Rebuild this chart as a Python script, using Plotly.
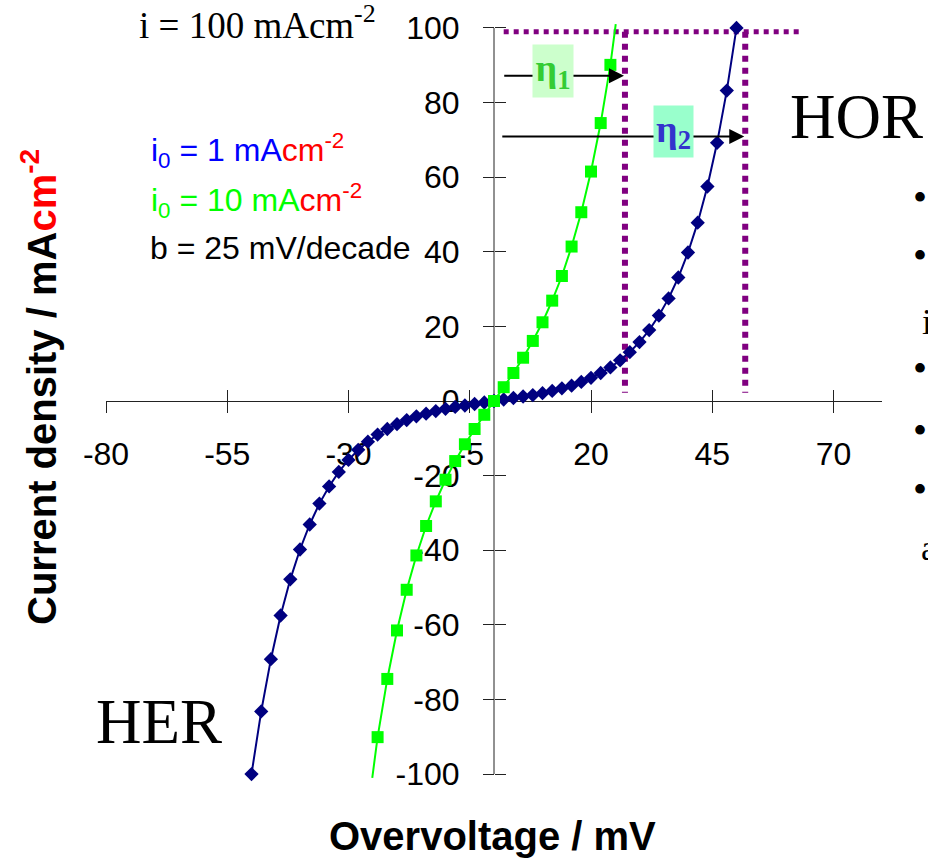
import plotly.graph_objects as go

# ---------------- data ----------------
eta_blue = [-50, -48, -46, -44, -42, -40, -38, -36, -34, -32, -30, -28, -26, -24, -22,
            -20, -18, -16, -14, -12, -10, -8, -6, -4, -2, 0, 2, 4, 6, 8, 10, 12, 14,
            16, 18, 20, 22, 24, 26, 28, 30, 32, 34, 36, 38, 40, 42, 44, 46, 48, 50]
i_blue = [-100, -83.2, -69.2, -57.5, -47.8, -39.8, -33.1, -27.5, -22.9, -19.0, -15.8,
          -13.1, -10.9, -9.0, -7.5, -6.2, -5.1, -4.1, -3.4, -2.7, -2.1, -1.6, -1.2,
          -0.8, -0.4, 0, 0.4, 0.8, 1.2, 1.6, 2.1, 2.7, 3.4, 4.1, 5.1, 6.2, 7.5, 9.0,
          10.9, 13.1, 15.8, 19.0, 22.9, 27.5, 33.1, 39.8, 47.8, 57.5, 69.2, 83.2, 100]

eta_green = [-24, -22, -20, -18, -16, -14, -12, -10, -8, -6, -4, -2, 0,
             2, 4, 6, 8, 10, 12, 14, 16, 18, 20, 22, 24]
i_green = [-90.1, -74.5, -61.5, -50.6, -41.4, -33.5, -26.9, -21.1, -16.1, -11.6, -7.5,
           -3.7, 0, 3.7, 7.5, 11.6, 16.1, 21.1, 26.9, 33.5, 41.4, 50.6, 61.5, 74.5, 90.1]
eta_green_line = [-25.1] + eta_green + [25.1]
i_green_line = [-101] + i_green + [101]

x_tickvals = [-80, -55, -30, -5, 20, 45, 70]
x_ticktext = ["-80", "-55", "-30", "-5", "20", "45", "70"]
y_tickvals = [-100, -80, -60, -40, -20, 0, 20, 40, 60, 80, 100]
y_ticktext = ["-100", "-80", "-60", "-40", "-20", "0", "20", "40", "60", "80", "100"]

# guide lines (overpotentials at i = 100 mA/cm2)
i_target = 99
eta1_line = 27.0
eta2_line = 51.8
h_line_x = [2.0, 63.6]
v_line_bottom = 2.2
arrow1 = dict(x0=1.8, x1=26.8, y=87.2)
arrow2 = dict(x0=1.4, x1=51.6, y=70.9)

# ---------------- figure ----------------
W, H = 928, 858
ML, MR, MT, MB = 106, 46, 13, 69
PW, PH = W - ML - MR, H - MT - MB


def PX(px):
    return (px - ML) / PW


def PY(py):
    return (H - MB - py) / PH


NAVY = "#000080"
LIME = "#00ff00"
PURPLE = "#800080"
AXC = "#222222"
ARIAL = "Arial, Liberation Sans, sans-serif"
TIMES = "Times New Roman, Liberation Serif, serif"

fig = go.Figure()
fig.add_trace(go.Scatter(x=eta_blue, y=i_blue, mode="lines+markers",
                         line=dict(color=NAVY, width=2),
                         marker=dict(symbol="diamond", size=11, color=NAVY),
                         cliponaxis=False, showlegend=False))
fig.add_trace(go.Scatter(x=eta_green_line, y=i_green_line, mode="lines",
                         line=dict(color=LIME, width=2), xaxis="x2", yaxis="y2",
                         showlegend=False))
fig.add_trace(go.Scatter(x=eta_green, y=i_green, mode="markers",
                         marker=dict(symbol="square", size=12, color=LIME),
                         xaxis="x2", yaxis="y2", cliponaxis=False, showlegend=False))

tickfont = dict(family=ARIAL, size=32, color="black")
common_x = dict(range=[-80, 80], tickmode="array", tickvals=x_tickvals,
                anchor="free", position=0.5, ticklen=11, tickwidth=1, tickcolor=AXC,
                showgrid=False, zeroline=False, layer="below traces")
common_y = dict(range=[-104, 104], tickmode="array", tickvals=y_tickvals,
                anchor="free", position=0.5, ticklen=11, tickwidth=1, tickcolor=AXC,
                showgrid=False, zeroline=False, layer="below traces")

fig.update_layout(
    width=W, height=H,
    margin=dict(l=ML, r=MR, t=MT, b=MB, autoexpand=False),
    paper_bgcolor="white", plot_bgcolor="white", showlegend=False,
    xaxis=dict(**common_x, ticktext=x_ticktext, ticks="outside", showline=True,
               linecolor=AXC, linewidth=1, tickfont=tickfont, ticklabelstandoff=14),
    xaxis2=dict(**common_x, overlaying="x", ticks="inside", showline=False,
                showticklabels=False),
    yaxis=dict(**common_y, ticktext=y_ticktext, ticks="outside", showline=False,
               tickfont=tickfont, ticklabelstandoff=17),
    yaxis2=dict(**common_y, overlaying="y", ticks="inside", showline=False,
                showticklabels=False),
)

# y axis line only between -100 and 100
fig.add_shape(type="line", xref="x", yref="y", x0=0, x1=0, y0=-100, y1=100,
              line=dict(color=AXC, width=1), layer="below")
# purple dotted guides
fig.add_shape(type="line", xref="x", yref="y", x0=h_line_x[0], x1=h_line_x[1],
              y0=i_target, y1=i_target, line=dict(color=PURPLE, width=5, dash="dot"),
              layer="below")
for xv in (eta1_line, eta2_line):
    fig.add_shape(type="line", xref="x", yref="y", x0=xv, x1=xv, y0=i_target,
                  y1=v_line_bottom, line=dict(color=PURPLE, width=6, dash="dot"),
                  layer="below")

# arrows
for a in (arrow1, arrow2):
    fig.add_annotation(x=a["x1"], y=a["y"], ax=a["x0"], ay=a["y"], xref="x", yref="y",
                       axref="x", ayref="y", text="", showarrow=True, arrowhead=2,
                       arrowsize=1.5, arrowwidth=2, arrowcolor="black", standoff=0)

# eta labels
fig.add_annotation(x=PX(553), y=PY(71), xref="paper", yref="paper",
                   xanchor="center", yanchor="middle",
                   text="<b>η<sub>1</sub></b>", showarrow=False, width=40, height=52,
                   bgcolor="#ccffcc", borderpad=0,
                   font=dict(family=TIMES, size=38, color="#33cc33"))
fig.add_annotation(x=PX(673), y=PY(131.5), xref="paper", yref="paper",
                   xanchor="center", yanchor="middle",
                   text="<b>η<sub>2</sub></b>", showarrow=False, width=39, height=51,
                   bgcolor="#99ffcc", borderpad=0,
                   font=dict(family=TIMES, size=38, color="#3333cc"))


def txt(text, px, py, size, family, color="black", xanchor="left", angle=0):
    fig.add_annotation(x=PX(px), y=PY(py), xref="paper", yref="paper", text=text,
                       showarrow=False, xanchor=xanchor, yanchor="middle",
                       textangle=angle, borderpad=0,
                       font=dict(family=family, size=size, color=color))


txt("i = 100 mAcm<sup>-2</sup>", 138, 23, 37, TIMES)
txt('i<sub>0</sub> = 1 mA<span style="color:#ff0000">cm<sup>-2</sup></span>',
    150, 150, 32, ARIAL, "#0000ff")
txt('i<sub>0</sub> = 10 mA<span style="color:#ff0000">cm<sup>-2</sup></span>',
    150, 200, 32, ARIAL, LIME)
txt("b = 25 mV/decade", 149, 248, 32, ARIAL)
txt("HOR", 789, 117, 63, TIMES)
txt("HER", 95, 722, 63, TIMES)
txt("<b>Overvoltage / mV</b>", 492, 836, 40, ARIAL, xanchor="center")
txt('<b>Current density / mA<span style="color:#ff0000">cm<sup>-2</sup></span></b>',
    39, 387, 40, ARIAL, xanchor="center", angle=-90)

# clipped slide text on the right edge
for by in (197, 255, 368, 430, 489):
    txt("•", 920, by, 40, TIMES, xanchor="center")
txt("i", 921, 322, 36, TIMES)
txt("a", 920, 548, 36, TIMES)

fig.write_html("out.html", config={"displayModeBar": False},
               post_script="document.body.style.margin='0';")
